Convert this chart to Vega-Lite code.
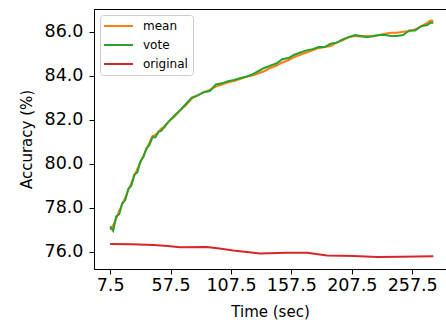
{
  "$schema": "https://vega.github.io/schema/vega-lite/v6.json",
  "width": 352,
  "height": 260,
  "autosize": {"type": "none"},
  "padding": {"left": 94, "top": 9, "right": 0, "bottom": 51},
  "background": "white",
  "config": {
    "view": {"stroke": "black", "strokeWidth": 1},
    "font": "DejaVu Sans",
    "axis": {
      "grid": false,
      "domainColor": "black",
      "tickColor": "black",
      "tickSize": 5,
      "labelColor": "black",
      "titleColor": "black",
      "labelFont": "DejaVu Sans",
      "titleFont": "DejaVu Sans",
      "titleFontWeight": "normal",
      "labelFontSize": 17.5,
      "titleFontSize": 15
    },
    "legend": {
      "labelFont": "DejaVu Sans",
      "labelFontSize": 12,
      "labelColor": "black"
    }
  },
  "data": {
    "values": [
      {"t": 7.5, "s": "mean", "v": 77.0},
      {"t": 10, "s": "mean", "v": 77.2},
      {"t": 12.5, "s": "mean", "v": 77.5},
      {"t": 15, "s": "mean", "v": 77.85},
      {"t": 17.5, "s": "mean", "v": 78.15},
      {"t": 20, "s": "mean", "v": 78.45},
      {"t": 22.5, "s": "mean", "v": 78.8},
      {"t": 25, "s": "mean", "v": 79.1},
      {"t": 27.5, "s": "mean", "v": 79.45},
      {"t": 30, "s": "mean", "v": 79.75},
      {"t": 32.5, "s": "mean", "v": 80.05},
      {"t": 35, "s": "mean", "v": 80.35},
      {"t": 37.5, "s": "mean", "v": 80.65},
      {"t": 40, "s": "mean", "v": 80.95},
      {"t": 42.5, "s": "mean", "v": 81.25},
      {"t": 45, "s": "mean", "v": 81.3},
      {"t": 47.5, "s": "mean", "v": 81.45},
      {"t": 50, "s": "mean", "v": 81.6},
      {"t": 52.5, "s": "mean", "v": 81.65},
      {"t": 55, "s": "mean", "v": 81.85},
      {"t": 57.5, "s": "mean", "v": 82.0},
      {"t": 60, "s": "mean", "v": 82.1},
      {"t": 65, "s": "mean", "v": 82.4},
      {"t": 70, "s": "mean", "v": 82.65},
      {"t": 75, "s": "mean", "v": 82.95},
      {"t": 80, "s": "mean", "v": 83.1},
      {"t": 85, "s": "mean", "v": 83.25},
      {"t": 90, "s": "mean", "v": 83.35},
      {"t": 95, "s": "mean", "v": 83.5},
      {"t": 100, "s": "mean", "v": 83.6},
      {"t": 105, "s": "mean", "v": 83.7},
      {"t": 110, "s": "mean", "v": 83.75},
      {"t": 115, "s": "mean", "v": 83.85},
      {"t": 120, "s": "mean", "v": 83.95},
      {"t": 125, "s": "mean", "v": 84.0},
      {"t": 130, "s": "mean", "v": 84.1},
      {"t": 135, "s": "mean", "v": 84.2},
      {"t": 140, "s": "mean", "v": 84.35},
      {"t": 145, "s": "mean", "v": 84.45},
      {"t": 150, "s": "mean", "v": 84.6},
      {"t": 155, "s": "mean", "v": 84.7},
      {"t": 160, "s": "mean", "v": 84.85},
      {"t": 165, "s": "mean", "v": 84.95},
      {"t": 170, "s": "mean", "v": 85.05},
      {"t": 175, "s": "mean", "v": 85.15},
      {"t": 180, "s": "mean", "v": 85.25},
      {"t": 185, "s": "mean", "v": 85.3},
      {"t": 190, "s": "mean", "v": 85.35},
      {"t": 195, "s": "mean", "v": 85.5},
      {"t": 200, "s": "mean", "v": 85.6},
      {"t": 205, "s": "mean", "v": 85.75},
      {"t": 210, "s": "mean", "v": 85.8},
      {"t": 215, "s": "mean", "v": 85.78},
      {"t": 220, "s": "mean", "v": 85.8},
      {"t": 225, "s": "mean", "v": 85.78},
      {"t": 230, "s": "mean", "v": 85.85},
      {"t": 235, "s": "mean", "v": 85.9},
      {"t": 240, "s": "mean", "v": 85.95},
      {"t": 245, "s": "mean", "v": 85.95},
      {"t": 250, "s": "mean", "v": 86.0},
      {"t": 255, "s": "mean", "v": 86.02},
      {"t": 260, "s": "mean", "v": 86.1},
      {"t": 265, "s": "mean", "v": 86.25},
      {"t": 270, "s": "mean", "v": 86.4},
      {"t": 272.5, "s": "mean", "v": 86.5},
      {"t": 275, "s": "mean", "v": 86.48},
      {"t": 7.5, "s": "vote", "v": 77.15},
      {"t": 10, "s": "vote", "v": 76.95},
      {"t": 12.5, "s": "vote", "v": 77.6},
      {"t": 15, "s": "vote", "v": 77.7},
      {"t": 17.5, "s": "vote", "v": 78.2},
      {"t": 20, "s": "vote", "v": 78.35},
      {"t": 22.5, "s": "vote", "v": 78.85},
      {"t": 25, "s": "vote", "v": 79.0},
      {"t": 27.5, "s": "vote", "v": 79.5},
      {"t": 30, "s": "vote", "v": 79.6},
      {"t": 32.5, "s": "vote", "v": 80.1},
      {"t": 35, "s": "vote", "v": 80.3},
      {"t": 37.5, "s": "vote", "v": 80.7},
      {"t": 40, "s": "vote", "v": 80.85},
      {"t": 42.5, "s": "vote", "v": 81.2},
      {"t": 45, "s": "vote", "v": 81.2},
      {"t": 47.5, "s": "vote", "v": 81.45},
      {"t": 50, "s": "vote", "v": 81.5},
      {"t": 52.5, "s": "vote", "v": 81.7},
      {"t": 55, "s": "vote", "v": 81.85},
      {"t": 57.5, "s": "vote", "v": 82.0},
      {"t": 60, "s": "vote", "v": 82.15},
      {"t": 65, "s": "vote", "v": 82.4},
      {"t": 70, "s": "vote", "v": 82.7},
      {"t": 75, "s": "vote", "v": 83.0},
      {"t": 80, "s": "vote", "v": 83.1},
      {"t": 85, "s": "vote", "v": 83.25},
      {"t": 90, "s": "vote", "v": 83.3},
      {"t": 95, "s": "vote", "v": 83.6},
      {"t": 100, "s": "vote", "v": 83.65},
      {"t": 105, "s": "vote", "v": 83.75},
      {"t": 110, "s": "vote", "v": 83.8},
      {"t": 115, "s": "vote", "v": 83.88},
      {"t": 120, "s": "vote", "v": 83.95},
      {"t": 125, "s": "vote", "v": 84.05},
      {"t": 130, "s": "vote", "v": 84.2},
      {"t": 135, "s": "vote", "v": 84.35},
      {"t": 140, "s": "vote", "v": 84.45},
      {"t": 145, "s": "vote", "v": 84.55},
      {"t": 150, "s": "vote", "v": 84.75},
      {"t": 155, "s": "vote", "v": 84.8},
      {"t": 160, "s": "vote", "v": 84.95},
      {"t": 165, "s": "vote", "v": 85.05},
      {"t": 170, "s": "vote", "v": 85.15},
      {"t": 175, "s": "vote", "v": 85.2},
      {"t": 180, "s": "vote", "v": 85.3},
      {"t": 185, "s": "vote", "v": 85.3},
      {"t": 190, "s": "vote", "v": 85.45},
      {"t": 195, "s": "vote", "v": 85.5},
      {"t": 200, "s": "vote", "v": 85.65},
      {"t": 205, "s": "vote", "v": 85.75},
      {"t": 210, "s": "vote", "v": 85.85},
      {"t": 215, "s": "vote", "v": 85.8},
      {"t": 220, "s": "vote", "v": 85.75},
      {"t": 225, "s": "vote", "v": 85.8},
      {"t": 230, "s": "vote", "v": 85.85},
      {"t": 235, "s": "vote", "v": 85.85},
      {"t": 240, "s": "vote", "v": 85.8},
      {"t": 245, "s": "vote", "v": 85.8},
      {"t": 250, "s": "vote", "v": 85.85},
      {"t": 255, "s": "vote", "v": 86.05},
      {"t": 260, "s": "vote", "v": 86.05},
      {"t": 265, "s": "vote", "v": 86.25},
      {"t": 270, "s": "vote", "v": 86.3},
      {"t": 272.5, "s": "vote", "v": 86.4},
      {"t": 275, "s": "vote", "v": 86.4},
      {"t": 7.5, "s": "original", "v": 76.35},
      {"t": 25, "s": "original", "v": 76.33},
      {"t": 43.5, "s": "original", "v": 76.3},
      {"t": 55, "s": "original", "v": 76.26},
      {"t": 65.5, "s": "original", "v": 76.2},
      {"t": 87.5, "s": "original", "v": 76.21},
      {"t": 98, "s": "original", "v": 76.14},
      {"t": 109.5, "s": "original", "v": 76.05},
      {"t": 131.5, "s": "original", "v": 75.91},
      {"t": 153.5, "s": "original", "v": 75.95},
      {"t": 170.5, "s": "original", "v": 75.95},
      {"t": 187, "s": "original", "v": 75.82},
      {"t": 209, "s": "original", "v": 75.8},
      {"t": 228.5, "s": "original", "v": 75.75},
      {"t": 247.5, "s": "original", "v": 75.77},
      {"t": 275, "s": "original", "v": 75.79}
    ]
  },
  "encoding": {
    "x": {
      "field": "t",
      "type": "quantitative",
      "scale": {"domain": [-5.875, 285.5], "nice": false, "zero": false},
      "axis": {
        "title": "Time (sec)",
        "values": [7.5, 57.5, 107.5, 157.5, 207.5, 257.5],
        "format": ".1f",
        "labelPadding": 2,
        "titlePadding": 11,
        "labelFlush": false
      }
    },
    "y": {
      "field": "v",
      "type": "quantitative",
      "scale": {"domain": [75.21, 87.03], "nice": false, "zero": false},
      "axis": {
        "title": "Accuracy (%)",
        "values": [76, 78, 80, 82, 84, 86],
        "format": ".1f",
        "labelPadding": 6,
        "titlePadding": 10
      }
    },
    "color": {
      "field": "s",
      "type": "nominal",
      "scale": {"domain": ["mean", "vote", "original"], "range": ["#ff7f0e", "#2ca02c", "#d62728"]},
      "legend": {
        "title": null,
        "orient": "none",
        "legendX": 6,
        "legendY": 6,
        "padding": 5,
        "fillColor": "white",
        "strokeColor": "#cccccc",
        "cornerRadius": 3,
        "symbolType": "M-2.9,0H2.9",
        "symbolSize": 100,
        "symbolStrokeWidth": 2,
        "symbolOffset": 7.5,
        "labelOffset": 18.5,
        "rowPadding": 7,
        "labelBaseline": "middle"
      }
    }
  },
  "layer": [
    {"transform": [{"filter": "datum.s === 'mean'"}], "mark": {"type": "line", "strokeWidth": 2}},
    {"transform": [{"filter": "datum.s === 'vote'"}], "mark": {"type": "line", "strokeWidth": 2}},
    {"transform": [{"filter": "datum.s === 'original'"}], "mark": {"type": "line", "strokeWidth": 2}}
  ]
}
